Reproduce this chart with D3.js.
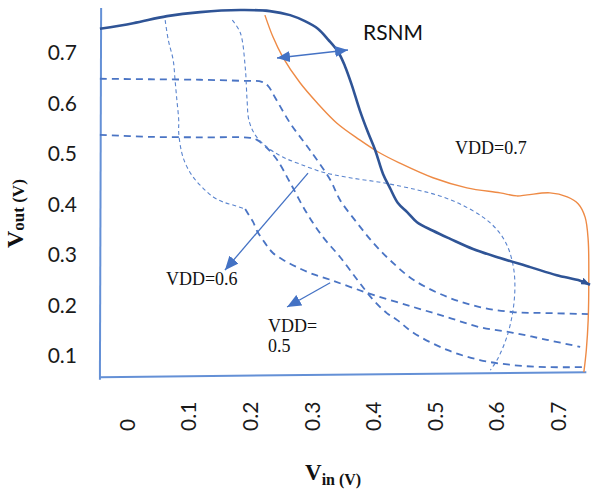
<!DOCTYPE html>
<html><head><meta charset="utf-8">
<script src="https://cdn.jsdelivr.net/npm/d3@7"></script>
<style>html,body{margin:0;padding:0;background:#fff;overflow:hidden}</style>
</head><body><svg id="chart" width="594" height="491"></svg>
<script>
// ---- tick values / labels ----
const xTicks = [0, 0.1, 0.2, 0.3, 0.4, 0.5, 0.6, 0.7];
const xTickLabels = ["0", "0.1", "0.2", "0.3", "0.4", "0.5", "0.6", "0.7"];
const yTicks = [0.1, 0.2, 0.3, 0.4, 0.5, 0.6, 0.7];
const yTickLabels = ["0.1", "0.2", "0.3", "0.4", "0.5", "0.6", "0.7"];

// ---- frame (axis lines) in data units ----
const leftAxis = [[-0.042, 0.789], [-0.044, 0.053]];
const bottomAxis = [[-0.044, 0.058], [0.746, 0.068]];

// ---- series (Vin, Vout) ----
// VDD = 0.7 inverter VTC (solid navy)
const vdd07Main = [[-0.044,0.748],[0.010,0.759],[0.065,0.773],[0.119,0.781],[0.184,0.785],[0.232,0.783],[0.265,0.775],[0.289,0.763],[0.310,0.748],[0.327,0.726],[0.343,0.702],[0.354,0.674],[0.365,0.637],[0.378,0.587],[0.391,0.544],[0.403,0.508],[0.416,0.460],[0.427,0.433],[0.440,0.403],[0.455,0.385],[0.471,0.365],[0.497,0.348],[0.525,0.332],[0.562,0.312],[0.606,0.294],[0.655,0.276],[0.698,0.260],[0.736,0.249],[0.752,0.241]];
// VDD = 0.7 mirrored curve (orange)
const vdd07Mirror = [[0.224,0.775],[0.237,0.732],[0.253,0.692],[0.281,0.641],[0.309,0.601],[0.341,0.561],[0.378,0.528],[0.408,0.504],[0.443,0.482],[0.497,0.453],[0.552,0.433],[0.606,0.423],[0.633,0.417],[0.650,0.419],[0.687,0.423],[0.715,0.415],[0.733,0.401],[0.744,0.375],[0.749,0.330],[0.750,0.251],[0.749,0.171],[0.746,0.112],[0.742,0.068]];
// VDD = 0.6 curve (dashed)
const vdd06Curve = [[-0.044,0.649],[0.037,0.648],[0.119,0.647],[0.184,0.645],[0.219,0.643],[0.229,0.635],[0.240,0.613],[0.265,0.561],[0.297,0.508],[0.330,0.449],[0.346,0.409],[0.374,0.363],[0.400,0.324],[0.427,0.290],[0.465,0.251],[0.520,0.217],[0.573,0.197],[0.627,0.187],[0.682,0.185],[0.752,0.183]];
// VDD = 0.5 curve (dashed)
const vdd05Curve = [[-0.044,0.538],[0.037,0.534],[0.119,0.533],[0.200,0.532],[0.211,0.528],[0.224,0.516],[0.244,0.488],[0.265,0.443],[0.292,0.383],[0.318,0.336],[0.346,0.296],[0.374,0.251],[0.400,0.211],[0.422,0.185],[0.439,0.171],[0.465,0.146],[0.520,0.112],[0.573,0.092],[0.627,0.082],[0.682,0.078],[0.741,0.078]];
// mirrored curve, thin upper part
const mirrorAThin = [[0.062,0.765],[0.067,0.726],[0.075,0.686],[0.078,0.647],[0.081,0.607],[0.084,0.567],[0.084,0.542],[0.089,0.502],[0.096,0.478],[0.107,0.455],[0.123,0.433],[0.140,0.415],[0.156,0.405],[0.172,0.399],[0.192,0.391]];
// mirrored curve, dashed lower part
const mirrorAThick = [[0.192,0.391],[0.198,0.379],[0.205,0.365],[0.211,0.348],[0.224,0.324],[0.237,0.304],[0.257,0.288],[0.276,0.276],[0.302,0.262],[0.330,0.251],[0.362,0.237],[0.400,0.221],[0.465,0.197],[0.520,0.177],[0.573,0.157],[0.627,0.146],[0.682,0.132],[0.736,0.118]];
// second mirrored curve (thin dashed)
const mirrorB = [[0.171,0.765],[0.184,0.740],[0.192,0.672],[0.195,0.607],[0.198,0.567],[0.208,0.538],[0.227,0.514],[0.253,0.494],[0.281,0.480],[0.318,0.464],[0.362,0.453],[0.416,0.443],[0.471,0.429],[0.508,0.417],[0.541,0.401],[0.578,0.375],[0.601,0.350],[0.617,0.320],[0.627,0.280],[0.630,0.241],[0.627,0.191],[0.617,0.138],[0.601,0.092],[0.590,0.072]];

// ---- annotation arrows (from, to) ----
const rsnmArrow = [[0.2436,0.690],[0.3589,0.706]];
const vdd06Arrow = [[0.294,0.462],[0.159,0.270]];
const vdd05Arrow = [[0.330,0.245],[0.260,0.197]];

// ---- labels ----
const labels = [
  {text: "RSNM", at: [0.3833, 0.7266], cls: "sans"},
  {text: "VDD=0.7", at: [0.5328, 0.5000], cls: "serif"},
  {text: "VDD=0.6", at: [0.0633, 0.2406], cls: "serif"},
  {text: "VDD=", at: [0.2290, 0.1475], cls: "serif"},
  {text: "0.5", at: [0.2290, 0.1079], cls: "serif"}
];

const svg = d3.select("#chart");
svg.append("rect").attr("width", 594).attr("height", 491).attr("fill", "#fff");

const x = d3.scaleLinear().domain([0, 0.7]).range([127, 558]);
const y = d3.scaleLinear().domain([0.1, 0.7]).range([356, 53]);

const line = d3.line().x(d => x(d[0])).y(d => y(d[1])).curve(d3.curveCatmullRom.alpha(0.5));
const straight = d3.line().x(d => x(d[0])).y(d => y(d[1]));

const defs = svg.append("defs");
function marker(id, color, len, wid) {
  defs.append("marker").attr("id", id)
    .attr("viewBox", "0 0 10 10").attr("refX", 10).attr("refY", 5)
    .attr("markerUnits", "userSpaceOnUse")
    .attr("markerWidth", len).attr("markerHeight", wid)
    .attr("preserveAspectRatio", "none")
    .attr("orient", "auto-start-reverse")
    .append("path").attr("d", "M0,0L10,5L0,10z").attr("fill", color);
}
marker("headBig", "#4472C4", 14, 12);
marker("headMid", "#4472C4", 13, 11);
marker("headNavy", "#2F5496", 9, 7);

// frame
svg.append("path").attr("d", straight(leftAxis)).attr("stroke", "#6490D6").attr("stroke-width", 2).attr("fill", "none");
svg.append("path").attr("d", straight(bottomAxis)).attr("stroke", "#6490D6").attr("stroke-width", 2).attr("fill", "none");

// dashed curves
const thickStyle = {stroke: "#4A74C4", w: 1.8, dash: "7,5"};
const thinStyle = {stroke: "#5A84CE", w: 1.1, dash: "4,3"};
function drawCurve(data, st) {
  svg.append("path").attr("d", line(data)).attr("fill", "none")
    .attr("stroke", st.stroke).attr("stroke-width", st.w).attr("stroke-dasharray", st.dash);
}
drawCurve(vdd06Curve, thickStyle);
drawCurve(vdd05Curve, thickStyle);
drawCurve(mirrorAThin, thinStyle);
drawCurve(mirrorAThick, thickStyle);
drawCurve(mirrorB, thinStyle);

// VDD=0.7 curves
svg.append("path").attr("d", line(vdd07Mirror)).attr("fill", "none")
  .attr("stroke", "#EE8A45").attr("stroke-width", 1.4);
svg.append("path").attr("d", line(vdd07Main)).attr("fill", "none")
  .attr("stroke", "#2F5496").attr("stroke-width", 2.6).attr("marker-end", "url(#headNavy)");

// arrows
svg.append("path").attr("d", straight(rsnmArrow)).attr("stroke", "#4472C4").attr("stroke-width", 1.4)
  .attr("marker-start", "url(#headMid)").attr("marker-end", "url(#headMid)");
svg.append("path").attr("d", straight(vdd06Arrow)).attr("stroke", "#4472C4").attr("stroke-width", 1.3)
  .attr("marker-end", "url(#headBig)");
svg.append("path").attr("d", straight(vdd05Arrow)).attr("stroke", "#4472C4").attr("stroke-width", 1.3)
  .attr("marker-end", "url(#headBig)");

// axes
const yAxis = d3.axisLeft(y).tickValues(yTicks).tickSize(0).tickPadding(23)
  .tickFormat((d, i) => yTickLabels[i]);
const gy = svg.append("g").attr("transform", "translate(100,0)").call(yAxis);
gy.select(".domain").remove();
gy.selectAll("text").attr("font-family", "Lato, 'Open Sans', sans-serif").attr("font-size", 21).attr("fill", "#1a1a1a");

const xAxis = d3.axisBottom(x).tickValues(xTicks).tickSize(0).tickFormat((d, i) => xTickLabels[i]);
const gx = svg.append("g").attr("transform", "translate(0,377)").call(xAxis);
gx.select(".domain").remove();
gx.selectAll("text")
  .attr("font-family", "Lato, 'Open Sans', sans-serif").attr("font-size", 21).attr("fill", "#1a1a1a")
  .attr("transform", "rotate(-90)").attr("x", -54).attr("y", 0).attr("dy", "0.35em")
  .attr("text-anchor", "start");

// labels
labels.forEach(l => {
  svg.append("text").attr("x", x(l.at[0])).attr("y", y(l.at[1]))
    .attr("font-family", l.cls === "sans" ? "Lato, 'Open Sans', sans-serif" : "'Liberation Serif', 'Times New Roman', serif")
    .attr("font-size", l.cls === "sans" ? 21 : 18)
    .attr("fill", "#111")
    .text(l.text);
});

// axis titles
const serif = "'Liberation Serif', 'Times New Roman', serif";
const yt = svg.append("text").attr("transform", "translate(23,248) rotate(-90)")
  .attr("font-family", serif).attr("font-weight", "bold").attr("fill", "#111");
yt.append("tspan").attr("font-size", 24).text("V");
yt.append("tspan").attr("font-size", 17).attr("dy", 1).text("out (V)");

const xt = svg.append("text").attr("transform", "translate(305,480)")
  .attr("font-family", serif).attr("font-weight", "bold").attr("fill", "#111");
xt.append("tspan").attr("font-size", 23).text("V");
xt.append("tspan").attr("font-size", 16).attr("dy", 5).text("in (V)");
</script></body></html>
